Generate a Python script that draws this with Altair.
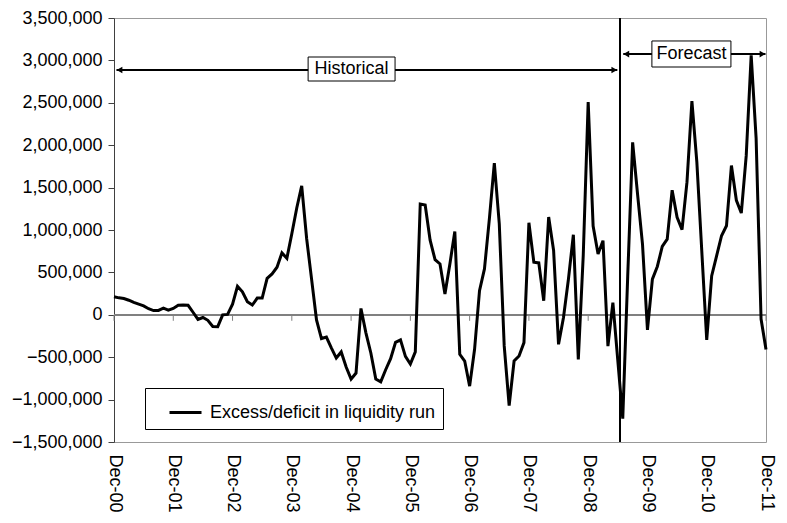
import json
import altair as alt
import pandas as pd

# Monthly excess/deficit (thousands), Dec-00 .. Dec-11
values_k = [
    213, 200, 192, 172, 146, 126, 105, 72, 50, 52, 78, 55,
    75, 112, 115, 112, 30, -55, -32, -65, -138, -140, 0, 5,
    126, 336, 272, 154, 115, 197, 197, 430, 482, 561, 730, 667,
    956, 1260, 1520, 900, 420, -60, -280, -262, -390, -510, -438, -615,
    -758, -687, 75, -213, -450, -758, -790, -648, -517, -324, -296, -490,
    -580, -438, 1307, 1295, 880, 650, 600, 245, 600, 983, -466, -545,
    -841, -407, 284, 541, 1133, 1790, 1074, -367, -1070, -545, -486, -328,
    1086, 620, 612, 166, 1153, 758, -348, -32, 420, 944, -525, 699,
    2508, 1046, 717, 874, -370, 144, -540, -1224, 450, 2034, 1420, 830,
    -178, 420, 570, 806, 892, 1470, 1150, 1005, 1564, 2519, 1800, 750,
    -295, 458, 695, 932, 1050, 1760, 1350, 1200, 1880, 3060, 2080, -50,
    -410,
]
tick_labels = ["Dec-00", "Dec-01", "Dec-02", "Dec-03", "Dec-04", "Dec-05",
               "Dec-06", "Dec-07", "Dec-08", "Dec-09", "Dec-10", "Dec-11"]
y_ticks = [-1500000, -1000000, -500000, 0, 500000, 1000000, 1500000,
           2000000, 2500000, 3000000, 3500000]
series_name = "Excess/deficit in liquidity run"

# annotation geometry in data units (month index, value)
forecast_start = 102.44
periods = ["Historical", "Forecast"]
arrow_x1 = [0.5, 103.1]
arrow_x2 = [101.9, 131.9]
arrow_y = [2887000, 3075000]
box_x1 = [39.3, 108.9]
box_x2 = [56.9, 124.9]
box_y1 = [2757000, 2922000]
box_y2 = [3040000, 3229000]

FONT = "Liberation Sans"

df = pd.DataFrame({
    "m": list(range(len(values_k))),
    "v": [v * 1000 for v in values_k],
    "series": series_name,
})
year_ticks = pd.DataFrame({"m": [12 * i for i in range(len(tick_labels))]})
ann = pd.DataFrame({
    "label": periods, "x1": arrow_x1, "x2": arrow_x2, "y": arrow_y,
    "bx1": box_x1, "bx2": box_x2, "by1": box_y1, "by2": box_y2,
})
ann["bxc"] = (ann["bx1"] + ann["bx2"]) / 2
ann["byc"] = (ann["by1"] + ann["by2"]) / 2

xs = alt.Scale(domain=[0, 132], nice=False, zero=False)
ys = alt.Scale(domain=[-1500000, 3500000], nice=False, zero=False)

label_expr = json.dumps(tick_labels) + "[round(datum.value / 12)]"

line = alt.Chart(df).mark_line(strokeWidth=3, strokeJoin="miter", strokeMiterLimit=3).encode(
    x=alt.X("m:Q", scale=xs, title=None,
            axis=alt.Axis(values=[12 * i for i in range(len(tick_labels))],
                          labelExpr=label_expr, labelAngle=90, labelAlign="left",
                          labelBaseline="middle", ticks=False, domain=False, grid=False,
                          labelFontSize=18, labelPadding=12, labelFlush=False,
                          labelOverlap=False)),
    y=alt.Y("v:Q", scale=ys, title=None,
            axis=alt.Axis(values=y_ticks, format=",d", grid=False, tickSize=6,
                          labelFontSize=18, labelPadding=6, domainColor="#404040",
                          tickColor="#404040", labelFlush=False, labelOverlap=False)),
    color=alt.Color("series:N", scale=alt.Scale(range=["black"]),
                    legend=alt.Legend(title=None, orient="none", legendX=31, legendY=370,
                                      strokeColor="black", fillColor="white", padding=7,
                                      symbolType="stroke", symbolSize=1024,
                                      symbolStrokeWidth=3, symbolOffset=16, labelOffset=7,
                                      labelFontSize=18, labelFont=FONT, labelLimit=500,
                                      cornerRadius=0)),
)

zero_line = alt.Chart(df).mark_rule(color="#808080", strokeWidth=1).encode(
    y=alt.Y(datum=0, scale=ys, title=None)
)
zero_ticks = alt.Chart(year_ticks).mark_rule(color="#808080", strokeWidth=1, y2Offset=6).encode(
    x=alt.X("m:Q", scale=xs, title=None),
    y=alt.Y(datum=0, scale=ys, title=None),
    y2=alt.Y2(datum=0),
)
vline = alt.Chart(df).mark_rule(color="black", strokeWidth=1).encode(
    x=alt.X(datum=forecast_start, scale=xs, title=None)
)
arrows = alt.Chart(ann).mark_rule(color="black", strokeWidth=2).encode(
    x=alt.X("x1:Q", scale=xs, title=None), x2="x2:Q",
    y=alt.Y("y:Q", scale=ys, title=None),
)
head_l = alt.Chart(ann).mark_point(shape="triangle-left", filled=True, size=45,
                                   color="black", opacity=1, xOffset=3).encode(
    x=alt.X("x1:Q", scale=xs, title=None), y=alt.Y("y:Q", scale=ys, title=None)
)
head_r = alt.Chart(ann).mark_point(shape="triangle-right", filled=True, size=45,
                                   color="black", opacity=1, xOffset=-3).encode(
    x=alt.X("x2:Q", scale=xs, title=None), y=alt.Y("y:Q", scale=ys, title=None)
)
boxes = alt.Chart(ann).mark_rect(fill="white", stroke="black", strokeWidth=1).encode(
    x=alt.X("bx1:Q", scale=xs, title=None), x2="bx2:Q",
    y=alt.Y("by1:Q", scale=ys, title=None), y2="by2:Q",
)
texts = alt.Chart(ann).mark_text(font=FONT, fontSize=18, color="black",
                                 baseline="middle", align="center").encode(
    x=alt.X("bxc:Q", scale=xs, title=None), y=alt.Y("byc:Q", scale=ys, title=None),
    text="label:N",
)

chart = alt.layer(zero_line, zero_ticks, vline, line, arrows, head_l, head_r, boxes, texts).properties(
    width=652, height=424,
    autosize=alt.AutoSizeParams(type="none"),
    padding={"left": 106, "top": 10, "right": 11, "bottom": 75},
).configure_view(
    stroke="#999999", strokeWidth=1
).configure_axis(
    labelFont=FONT, labelColor="black"
).configure_legend(
    labelFont=FONT, labelColor="black"
)

chart.save("out.html", embed_options={"renderer": "svg", "actions": False})
